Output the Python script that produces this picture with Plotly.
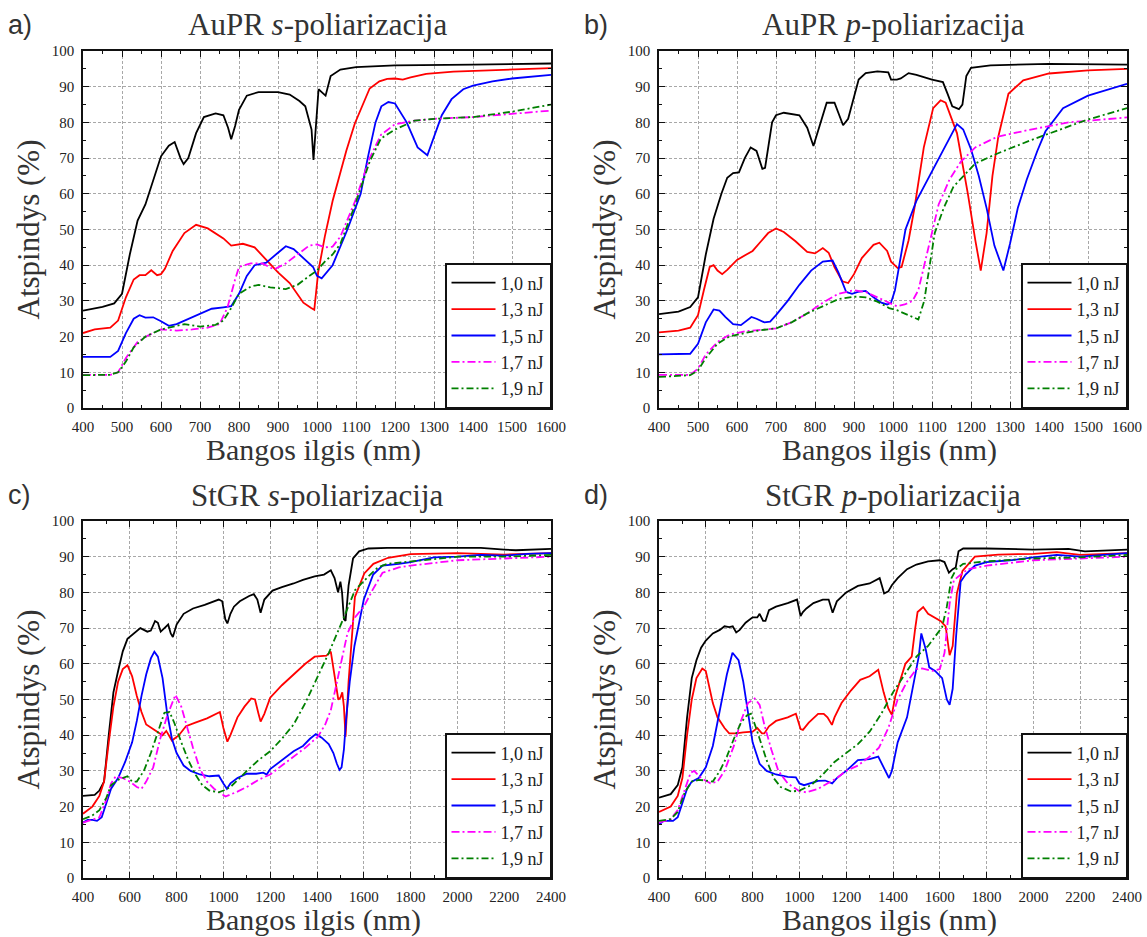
import plotly.graph_objects as go

# ---------------- DATA ----------------
SERIES_NAMES = ["1,0 nJ", "1,3 nJ", "1,5 nJ", "1,7 nJ", "1,9 nJ"]

# Panel a: AuPR s-polarization
A10_X = [400, 450, 480, 500, 520, 540, 560, 580, 600, 620, 635, 650, 658, 670, 690, 710, 740, 760, 772, 780, 790, 800, 820, 850, 900, 930, 955, 970, 980, 986, 991, 997, 1004, 1012, 1022, 1035, 1060, 1100, 1150, 1200, 1400, 1600]
A10_Y = [27.3, 28.3, 29.3, 32, 43, 52.5, 57, 64, 70.5, 73.5, 74.5, 70, 68.3, 70, 77, 81.5, 82.5, 82, 78.5, 75.3, 79, 83.5, 87.5, 88.5, 88.5, 87.8, 86, 84.5, 80, 78, 69.5, 80, 89.3, 88.5, 87.5, 93, 94.8, 95.5, 95.8, 96, 96.2, 96.5]
A13_X = [400, 430, 470, 490, 510, 530, 545, 560, 575, 590, 600, 610, 630, 660, 690, 720, 760, 780, 810, 840, 870, 900, 930, 965, 985, 993, 1003, 1020, 1040, 1060, 1075, 1097, 1120, 1135, 1160, 1180, 1200, 1220, 1240, 1280, 1350, 1450, 1600]
A13_Y = [21, 22, 22.5, 24.5, 31, 36, 37.2, 37.2, 38.6, 37.2, 37.5, 39, 44, 49, 51.3, 50.3, 47.5, 45.5, 46, 45, 41.5, 38, 35, 29.5, 28, 27.5, 38, 48, 58, 66, 72, 79.7, 85.5, 89.5, 91.5, 92.2, 92.3, 92, 92.6, 93.6, 94.2, 94.6, 95.2]
A15_X = [400, 470, 490, 510, 530, 545, 560, 580, 600, 620, 640, 670, 700, 730, 760, 780, 800, 820, 840, 870, 900, 920, 940, 970, 990, 1000, 1012, 1040, 1078, 1112, 1130, 1150, 1165, 1183, 1200, 1230, 1258, 1283, 1300, 1320, 1345, 1375, 1400, 1450, 1500, 1600]
A15_Y = [14.3, 14.3, 16, 21, 25, 26, 25.3, 25.4, 24.3, 23, 23.5, 25, 26.5, 27.8, 28.2, 28.5, 32, 37, 40, 40.7, 43.5, 45.3, 44.5, 41.5, 39.5, 37, 36.3, 40, 50, 60, 70, 80, 84.5, 85.7, 85.3, 80, 73, 70.8, 76, 82, 86.5, 89.3, 90.3, 91.5, 92.3, 93.3]
A17_X = [400, 470, 490, 510, 540, 570, 600, 640, 680, 720, 750, 770, 790, 800, 830, 860, 890, 920, 950, 980, 1000, 1020, 1040, 1060, 1098, 1135, 1164, 1200, 1250, 1300, 1400, 1500, 1600]
A17_Y = [9.3, 9.3, 10, 14, 18.5, 20.5, 22, 21.7, 22, 22.5, 23.5, 28, 36, 39.5, 40.5, 40.5, 38.8, 40.5, 43, 45.5, 45.8, 45, 45.2, 48, 58, 70, 76.5, 79.5, 80.5, 81, 81.5, 82.5, 83.3]
A19_X = [400, 470, 490, 510, 530, 560, 600, 640, 660, 700, 740, 760, 780, 800, 830, 850, 880, 920, 950, 980, 1000, 1020, 1040, 1060, 1098, 1135, 1164, 1200, 1250, 1300, 1400, 1500, 1600]
A19_Y = [9.2, 9.3, 10, 13, 17, 20, 22, 23, 23.5, 22.8, 23.3, 24.5, 28, 32, 34, 34.5, 33.8, 33.3, 34.5, 37, 38.5, 41, 43, 46, 57, 69, 75.5, 78, 80.5, 81, 81.5, 83, 85]

# Panel b: AuPR p-polarization
B10_X = [400, 450, 480, 500, 520, 540, 560, 575, 590, 605, 620, 635, 650, 665, 672, 690, 700, 720, 760, 780, 796, 815, 830, 850, 872, 885, 900, 912, 930, 960, 988, 995, 1010, 1020, 1040, 1060, 1100, 1128, 1140, 1152, 1169, 1178, 1188, 1200, 1250, 1400, 1600]
B10_Y = [26.3, 27, 28.3, 31, 43, 53, 60, 64.5, 65.8, 66, 70, 73, 72, 67, 67.3, 80, 82, 82.7, 82, 78.5, 73.4, 80, 85.5, 85.5, 79.2, 81, 87, 92, 93.8, 94.3, 94, 92, 92, 92.3, 93.8, 93.3, 92, 91.3, 88, 84.5, 83.7, 85, 93, 95.3, 96, 96.4, 96.2]
B13_X = [400, 450, 480, 500, 515, 530, 540, 550, 562, 575, 600, 620, 640, 660, 680, 700, 720, 750, 780, 800, 820, 835, 850, 870, 885, 900, 920, 950, 965, 985, 995, 1012, 1022, 1040, 1055, 1079, 1103, 1122, 1135, 1164, 1192, 1211, 1225, 1240, 1255, 1270, 1296, 1334, 1400, 1500, 1600]
B13_Y = [21.2, 21.7, 22.5, 26, 33, 39.5, 40, 38.5, 37.5, 38.7, 41.5, 42.7, 44, 46.5, 49, 50.3, 49.3, 46.7, 43.7, 43.3, 44.8, 43.5, 39.5, 35.5, 35, 37.5, 42, 45.7, 46.3, 44, 41, 39.2, 39.5, 47, 56, 73, 84, 86.2, 85.5, 77, 60, 47, 38.5, 49, 65, 76, 88, 91.8, 93.7, 94.6, 95]
B15_X = [400, 480, 500, 520, 540, 555, 570, 590, 610, 625, 637, 650, 670, 685, 700, 730, 760, 790, 820, 845, 860, 880, 895, 910, 930, 950, 970, 985, 995, 1005, 1032, 1060, 1098, 1136, 1164, 1180, 1200, 1220, 1240, 1260, 1283, 1300, 1320, 1343, 1370, 1391, 1436, 1500, 1600]
B15_Y = [15, 15.2, 18, 24, 27.6, 27.3, 25.5, 23.5, 23.2, 24.5, 25.5, 25, 24, 24.2, 26, 30, 34.5, 38.5, 41, 41.3, 38, 32.5, 32, 32.5, 32.8, 31, 29.5, 29, 29.5, 33, 50, 58, 65.7, 73.5, 79.5, 78, 72.5, 65, 56, 45.5, 38.5, 46, 56, 64, 72, 77.5, 84, 87.5, 90.8]
B17_X = [400, 480, 500, 520, 550, 580, 620, 660, 700, 740, 780, 820, 860, 900, 930, 960, 980, 1000, 1010, 1030, 1050, 1065, 1089, 1117, 1145, 1174, 1211, 1268, 1353, 1450, 1600]
B17_Y = [9.3, 9.3, 11, 15, 18.5, 20.5, 21.5, 22, 22.3, 24, 26.5, 29.5, 32, 33, 32.5, 31, 30, 29, 28.5, 29, 30, 33, 44, 57, 64, 69, 73, 76, 78, 80, 81.4]
B19_X = [400, 480, 500, 520, 550, 580, 620, 660, 700, 740, 780, 820, 860, 900, 930, 960, 990, 1010, 1040, 1065, 1080, 1095, 1107, 1130, 1155, 1211, 1268, 1353, 1494, 1600]
B19_Y = [8.7, 9.2, 10.5, 14, 18, 20, 21, 21.8, 22.3, 24, 26.5, 28.5, 30.5, 31.2, 31, 29.8, 28, 27.4, 26, 24.8, 30, 40, 49, 56, 62, 68.5, 71.3, 75, 80.6, 84]

# Panel c: StGR s-polarization
C10_X = [400, 450, 470, 490, 510, 530, 550, 570, 590, 620, 645, 660, 675, 690, 708, 720, 732, 748, 764, 775, 784, 800, 830, 870, 920, 980, 995, 1008, 1017, 1030, 1045, 1070, 1110, 1130, 1145, 1159, 1175, 1210, 1250, 1300, 1340, 1390, 1430, 1459, 1475, 1490, 1500, 1507, 1515, 1522, 1535, 1554, 1580, 1620, 1700, 1900, 2100, 2200, 2250, 2400]
C10_Y = [23, 23.3, 24.5, 27, 40, 52, 58, 63.5, 67, 68.5, 70, 69.5, 69, 69.3, 72, 71.5, 69, 70, 71, 68.5, 67.5, 71, 74, 75.5, 76.5, 78, 77.5, 72.5, 71.3, 74, 76, 77.5, 79, 79.5, 78, 74.3, 78, 80.5, 81.5, 82.5, 83.5, 84.5, 85, 86.2, 84, 80, 83, 80, 72.5, 72, 82, 89.5, 91.5, 92.3, 92.5, 92.5, 92.5, 92, 91.8, 92.2]
C13_X = [400, 440, 470, 490, 510, 530, 550, 570, 590, 610, 630, 650, 670, 700, 740, 756, 780, 810, 840, 880, 930, 985, 1000, 1017, 1030, 1060, 1090, 1119, 1135, 1150, 1159, 1175, 1200, 1250, 1300, 1350, 1390, 1440, 1459, 1475, 1491, 1500, 1508, 1515, 1522, 1535, 1562, 1602, 1641, 1704, 1800, 2000, 2200, 2400]
C13_Y = [18, 20, 23, 27, 38, 48, 55, 58.5, 59.6, 56.5, 51, 46.5, 43, 41.7, 40, 41.2, 38.5, 40, 42.5, 43.5, 44.7, 46.5, 42, 38.2, 40, 45, 48, 50.3, 50, 46, 43.8, 46, 50.5, 54, 57, 60, 62, 62.3, 63.4, 57, 50, 50.5, 52, 48, 39.6, 55, 78.7, 85.3, 88, 89.7, 90.7, 91, 90.6, 91]
C15_X = [400, 420, 440, 460, 480, 500, 520, 550, 580, 610, 630, 650, 670, 690, 705, 720, 740, 760, 780, 800, 830, 860, 900, 940, 980, 1000, 1015, 1030, 1060, 1100, 1140, 1170, 1185, 1200, 1250, 1300, 1340, 1370, 1395, 1420, 1450, 1470, 1485, 1496, 1505, 1515, 1525, 1540, 1560, 1580, 1600, 1640, 1680, 1750, 1800, 1900, 2000, 2100, 2200, 2300, 2400]
C15_Y = [15.5, 16.3, 16.3, 16, 17, 21, 25, 28, 32.5, 38, 44, 51, 57, 61.5, 63.4, 62, 56, 46, 39, 35, 31.5, 30, 29, 28.5, 28.7, 26.5, 25, 26.5, 28, 29.2, 29.2, 29.5, 29, 30.5, 33, 35.5, 37, 39, 40.3, 39.3, 37.5, 35, 32, 30.3, 31, 36, 45, 55, 65, 72, 78, 85, 87.5, 88, 88.5, 89.8, 90, 90.5, 90.3, 90.8, 91]
C17_X = [400, 440, 470, 500, 520, 540, 570, 600, 630, 650, 670, 700, 730, 760, 795, 820, 840, 870, 900, 930, 960, 1009, 1060, 1100, 1150, 1200, 1250, 1300, 1350, 1404, 1435, 1459, 1483, 1507, 1530, 1562, 1600, 1640, 1680, 1750, 1800, 2000, 2200, 2400]
C17_Y = [15.5, 16.3, 17, 22, 26.5, 28.5, 28, 27, 25.5, 25, 27, 31, 39, 45.5, 51.3, 48, 43.5, 36.5, 30.5, 27, 25, 22.8, 24.2, 25.5, 27.5, 29, 31.5, 34, 36.5, 39.6, 43, 47, 54.5, 62, 68.5, 73, 76, 81, 85.5, 87, 87.5, 89, 89.5, 90]
C19_X = [400, 440, 470, 500, 520, 550, 590, 610, 630, 660, 690, 720, 748, 770, 790, 820, 850, 880, 910, 940, 980, 1000, 1030, 1070, 1100, 1150, 1200, 1250, 1300, 1350, 1388, 1450, 1515, 1562, 1620, 1660, 1700, 1800, 2000, 2200, 2400]
C19_Y = [16.5, 17.5, 19, 22.5, 26, 27.5, 28.5, 27, 27, 30, 35, 41, 46.3, 46.5, 43.5, 38, 33, 29, 26, 24.5, 24, 24.5, 25.5, 28, 30, 33, 35.5, 39, 43, 49, 54.5, 63, 73, 80.6, 84.5, 87, 88, 88.7, 90, 90, 90.5]

# Panel d: StGR p-polarization
D10_X = [400, 450, 480, 500, 520, 540, 560, 580, 600, 630, 660, 680, 700, 715, 730, 745, 770, 800, 820, 830, 845, 855, 870, 900, 950, 990, 1005, 1015, 1030, 1060, 1100, 1125, 1142, 1160, 1200, 1250, 1300, 1343, 1352, 1362, 1380, 1395, 1420, 1460, 1500, 1550, 1600, 1620, 1639, 1655, 1668, 1680, 1700, 1800, 2000, 2150, 2220, 2400]
D10_Y = [22.5, 23.5, 26, 31, 45, 56, 61, 64.5, 66.5, 68.5, 69.5, 70.5, 70.3, 70.5, 68.8, 69.5, 71.5, 73, 73, 74, 72, 72, 75, 76, 77, 78, 73.4, 74.5, 75.5, 77, 78, 78, 74.3, 77.5, 80, 81.8, 82.5, 84, 82, 79.7, 80.3, 82, 84, 86.5, 87.8, 88.7, 89, 88.5, 85.5, 86.5, 87, 91.5, 92.3, 92.3, 92, 92.2, 91.5, 92]
D13_X = [400, 450, 480, 500, 520, 540, 560, 585, 600, 610, 630, 650, 680, 700, 730, 760, 800, 820, 840, 850, 870, 900, 950, 985, 1005, 1015, 1040, 1080, 1104, 1120, 1139, 1150, 1180, 1220, 1260, 1300, 1337, 1360, 1380, 1395, 1410, 1453, 1480, 1495, 1505, 1529, 1550, 1603, 1625, 1642, 1655, 1673, 1697, 1750, 1850, 2000, 2100, 2200, 2400]
D13_Y = [18.5, 20, 23, 28, 40, 50, 56, 58.7, 58, 55, 49, 45, 42, 40.5, 40.5, 40.8, 41, 42, 40.5, 40.5, 42.5, 44, 45, 46, 41.7, 41.5, 43.5, 46, 46, 45, 42.9, 45, 49, 52.5, 55.5, 56.5, 58.3, 52, 47.5, 45.7, 51, 60, 62, 70, 74.5, 75.9, 74, 72, 70.5, 62.4, 65, 79.7, 86, 90, 90.6, 90.8, 91.3, 90.5, 91]
D15_X = [400, 420, 460, 480, 500, 520, 540, 570, 600, 630, 660, 690, 714, 740, 760, 780, 800, 830, 860, 900, 950, 985, 1000, 1020, 1050, 1080, 1110, 1140, 1160, 1200, 1250, 1300, 1337, 1360, 1383, 1395, 1420, 1460, 1490, 1510, 1521, 1540, 1555, 1580, 1610, 1630, 1642, 1655, 1670, 1689, 1710, 1750, 1800, 1900, 2000, 2100, 2200, 2400]
D15_Y = [15, 16, 16, 17, 21, 25, 27, 28, 31, 37, 47, 57, 63.1, 61, 55, 46, 38, 32, 30, 29, 28.3, 28.2, 26.5, 26, 26.5, 27.2, 27.3, 26.5, 28, 30, 33, 33.3, 34, 31, 28, 30, 38, 45, 55, 62, 68.5, 64, 59, 58, 56, 50, 48.5, 53, 68, 83, 85, 87.5, 88.5, 89, 89.8, 90.5, 90, 91]
D17_X = [400, 450, 480, 510, 535, 550, 580, 620, 650, 680, 720, 750, 780, 809, 830, 850, 880, 910, 950, 1000, 1029, 1080, 1120, 1160, 1200, 1250, 1300, 1340, 1380, 1420, 1460, 1500, 1524, 1570, 1600, 1620, 1642, 1660, 1690, 1720, 1800, 2000, 2200, 2400]
D17_Y = [15.5, 16.5, 19, 25, 29.5, 30, 28, 26.5, 27, 30, 37, 44, 49, 50.3, 48.5, 43, 36, 30, 26.5, 24.3, 24, 25, 26.5, 28, 30, 31.5, 34, 36.5, 42, 50, 55, 58.5, 58.7, 58, 58.5, 63, 76.9, 83.4, 85, 86.5, 87.5, 89, 89.5, 90]
D19_X = [400, 450, 480, 510, 540, 570, 600, 630, 660, 690, 720, 750, 775, 793, 815, 830, 860, 890, 920, 966, 1000, 1050, 1100, 1150, 1200, 1250, 1300, 1350, 1400, 1450, 1500, 1550, 1610, 1630, 1650, 1670, 1700, 1800, 2000, 2200, 2400]
D19_Y = [16, 16.5, 18.5, 24, 27, 27.5, 27.3, 27, 30, 34, 39, 43.5, 45.5, 46, 42, 39, 33, 28, 25.5, 24.2, 24.5, 26, 29, 32.5, 35, 37.5, 41, 46, 52, 57, 62, 65, 70.3, 76, 84, 86.5, 88, 88.7, 89.5, 89.8, 90.5]

PANEL_TITLES = ["AuPR <i>s</i>-poliarizacija", "AuPR <i>p</i>-poliarizacija",
                "StGR <i>s</i>-poliarizacija", "StGR <i>p</i>-poliarizacija"]
PANEL_LETTERS = ["a)", "b)", "c)", "d)"]
X_TITLE = "Bangos ilgis (nm)"
Y_TITLE = "Atspindys (%)"

# ---------------- STYLE ----------------
SERIF = "Liberation Serif, serif"
SANS = "Liberation Sans, Arial, sans-serif"
COLORS = ["#000000", "#ff0000", "#0000ff", "#ff00ff", "#008000"]
DASHES = ["solid", "solid", "solid", "8px,3px,2px,3px", "7px,3px,2px,3px"]
W, H = 1147, 937

def px(sx):
    return sx / W

def py(sy):
    return 1 - sy / H

panels = [
    [(A10_X, A10_Y), (A13_X, A13_Y), (A15_X, A15_Y), (A17_X, A17_Y), (A19_X, A19_Y)],
    [(B10_X, B10_Y), (B13_X, B13_Y), (B15_X, B15_Y), (B17_X, B17_Y), (B19_X, B19_Y)],
    [(C10_X, C10_Y), (C13_X, C13_Y), (C15_X, C15_Y), (C17_X, C17_Y), (C19_X, C19_Y)],
    [(D10_X, D10_Y), (D13_X, D13_Y), (D15_X, D15_Y), (D17_X, D17_Y), (D19_X, D19_Y)],
]

# pixel boxes of the plot areas (left, right, top, bottom)
boxes = [(83, 551, 51, 408), (659, 1127, 51, 408), (83, 551, 521, 878), (659, 1127, 521, 878)]
xranges = [(400, 1600, 100, 50), (400, 1600, 100, 50), (400, 2400, 200, 100), (400, 2400, 200, 100)]

fig = go.Figure()
legend_keys = ["legend", "legend2", "legend3", "legend4"]

for p, series in enumerate(panels):
    sfx = "" if p == 0 else str(p + 1)
    for s, (xs, ys) in enumerate(series):
        fig.add_trace(go.Scatter(
            x=xs, y=ys, mode="lines", name=SERIES_NAMES[s],
            line=dict(color=COLORS[s], width=1.8, dash=DASHES[s]),
            xaxis="x" + sfx, yaxis="y" + sfx, legend=legend_keys[p],
        ))

layout = dict(width=W, height=H,
              margin=dict(l=0, r=0, t=0, b=0, pad=0, autoexpand=False),
              paper_bgcolor="white", plot_bgcolor="white", showlegend=True,
              font=dict(family=SERIF, color="#222"))

annotations = []
for p in range(4):
    l, r, t, b = boxes[p]
    x0, x1 = px(l), px(r)
    y0, y1 = py(b), py(t)
    xr0, xr1, xd, xm = xranges[p]
    sfx = "" if p == 0 else str(p + 1)
    common = dict(showline=True, linecolor="#111", linewidth=1.6, mirror="allticks",
                  ticks="inside", ticklen=6, tickwidth=1.4, tickcolor="#111",
                  showgrid=True, gridcolor="#a8a8a8", griddash="3px,2px", gridwidth=1,
                  zeroline=False, ticklabelstandoff=4, automargin=False,
                  tickfont=dict(family=SERIF, size=15, color="#222"))
    layout["xaxis" + sfx] = dict(common, domain=[x0, x1], range=[xr0, xr1], dtick=xd, tick0=xr0,
                                 anchor="y" + sfx,
                                 minor=dict(ticks="inside", ticklen=3.5, tickwidth=1.2,
                                            tickcolor="#111", dtick=xm, showgrid=False))
    layout["yaxis" + sfx] = dict(common, domain=[y0, y1], range=[0, 100], dtick=10, tick0=0,
                                 anchor="x" + sfx,
                                 minor=dict(ticks="inside", ticklen=3.5, tickwidth=1.2,
                                            tickcolor="#111", dtick=5, showgrid=False))
    layout[legend_keys[p]] = dict(x=x1, y=y0, xanchor="right", yanchor="bottom",
                                  xref="paper", yref="paper",
                                  bgcolor="white", bordercolor="#111", borderwidth=1.5,
                                  font=dict(family=SERIF, size=18, color="#222"),
                                  itemwidth=44, tracegroupgap=0)
    cx = (l + r) / 2
    annotations.append(dict(text=PANEL_TITLES[p], x=px(cx), y=py(t - 26),
                            xref="paper", yref="paper", showarrow=False,
                            xanchor="center", yanchor="middle",
                            font=dict(family=SERIF, size=31, color="#333")))
    annotations.append(dict(text=PANEL_LETTERS[p], x=px(l - 77), y=py(t - 26),
                            xref="paper", yref="paper", showarrow=False,
                            xanchor="left", yanchor="middle",
                            font=dict(family=SANS, size=27, color="#333")))
    annotations.append(dict(text=X_TITLE, x=px(cx - 4), y=py(b + 42),
                            xref="paper", yref="paper", showarrow=False,
                            xanchor="center", yanchor="middle",
                            font=dict(family=SERIF, size=30, color="#333")))
    annotations.append(dict(text=Y_TITLE, x=px(l - 55), y=py((t + b) / 2),
                            xref="paper", yref="paper", showarrow=False, textangle=-90,
                            xanchor="center", yanchor="middle",
                            font=dict(family=SERIF, size=31, color="#333")))

layout["annotations"] = annotations
fig.update_layout(**layout)
fig.write_html("out.html", config={"displayModeBar": False},
               post_script="document.body.style.margin='0';document.body.style.overflow='hidden';")
